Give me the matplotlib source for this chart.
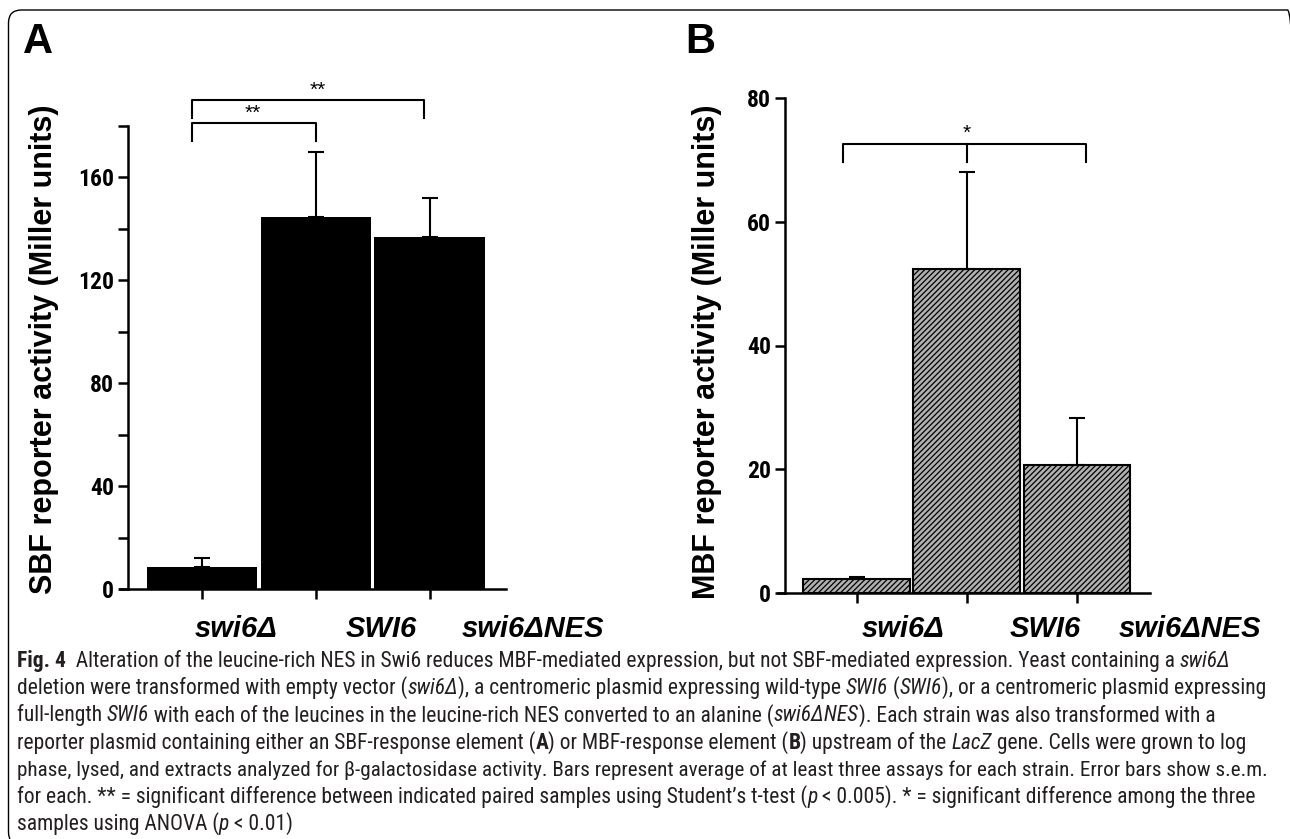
import matplotlib
matplotlib.use("Agg")
import matplotlib.pyplot as plt
from matplotlib import font_manager
from matplotlib.patches import FancyBboxPatch
from matplotlib.transforms import IdentityTransform, ScaledTranslation

# values
strains = ["swi6Δ", "SWI6", "swi6ΔNES"]
sbf_mean = [8.6, 144.8, 137.0]
sbf_sem = [3.5, 24.9, 15.2]
mbf_mean = [2.3, 52.4, 20.7]
mbf_sem = [0.3, 15.6, 7.6]

sbf_ticks = [0, 20, 40, 60, 80, 100, 120, 140, 160, 180]
sbf_ticklabels = ["0", "", "40", "", "80", "", "120", "", "160", ""]
mbf_ticks = [0, 20, 40, 60, 80]
mbf_ticklabels = ["0", "20", "40", "60", "80"]

caption_lines = [
    [("Fig. 4", "b"), ("  Alteration of the leucine-rich NES in Swi6 reduces MBF-mediated expression, "
                       "but not SBF-mediated expression. Yeast containing a ", "n"), ("swi6Δ", "i")],
    [("deletion were transformed with empty vector (", "n"), ("swi6Δ", "i"),
     ("), a centromeric plasmid expressing wild-type ", "n"), ("SWI6", "i"), (" (", "n"),
     ("SWI6", "i"), ("), or a centromeric plasmid expressing", "n")],
    [("full-length ", "n"), ("SWI6", "i"),
     (" with each of the leucines in the leucine-rich NES converted to an alanine (", "n"),
     ("swi6ΔNES", "i"), ("). Each strain was also transformed with a", "n")],
    [("reporter plasmid containing either an SBF-response element (", "n"), ("A", "b"),
     (") or MBF-response element (", "n"), ("B", "b"), (") upstream of the ", "n"),
     ("LacZ", "i"), (" gene. Cells were grown to log", "n")],
    [("phase, lysed, and extracts analyzed for β-galactosidase activity. Bars represent average "
      "of at least three assays for each strain. Error bars show s.e.m.", "n")],
    [("for each. ** = significant difference between indicated paired samples using Student’s t-test (", "n"),
     ("p", "i"), (" < 0.005). * = significant difference among the three", "n")],
    [("samples using ANOVA (", "n"), ("p", "i"), (" < 0.01)", "n")],
]

# pick a narrow face if one is installed
fonts = font_manager.fontManager.ttflist
names = {f.name for f in fonts}
narrow = "Liberation Sans"
narrow_stretch = "normal"
for cand in ["Liberation Sans Narrow", "Roboto Condensed", "Open Sans Condensed", "Noto Sans Condensed"]:
    if cand in names:
        narrow = cand
        break
else:
    if any(f.name == "DejaVu Sans" and f.stretch == "condensed" for f in fonts):
        narrow = "DejaVu Sans"
        narrow_stretch = "condensed"
arial = "Liberation Sans"

W, H = 1290, 839
fig = plt.figure(figsize=(W / 100, H / 100), dpi=100)
plt.rcParams["hatch.linewidth"] = 0.9


def px_axes(x0, y_top, x1, y_bot):
    return fig.add_axes([x0 / W, 1 - y_bot / H, (x1 - x0) / W, (y_bot - y_top) / H])


def style_axes(ax, xleft, spine_x, xright, ymax, ticks, labels, xpad, label_shift):
    ax.set_xlim(xleft, xright)
    ax.set_ylim(0, ymax)
    for s in ["top", "right"]:
        ax.spines[s].set_visible(False)
    ax.spines["left"].set_position(("data", spine_x))
    for s in ["left", "bottom"]:
        ax.spines[s].set_linewidth(1.8)
    ax.set_xticks(range(len(strains)))
    ax.set_xticklabels(strains, fontsize=21, fontweight="bold", style="italic", family=arial)
    ax.set_yticks(ticks)
    ax.set_yticklabels(labels, fontsize=17, fontweight="bold", family=[narrow, "DejaVu Sans"],
                       fontstretch=narrow_stretch)
    ax.tick_params(axis="x", length=7, width=1.8, pad=xpad)
    ax.tick_params(axis="y", length=7, width=1.8, pad=3)
    ax.patch.set_visible(False)
    # strain names sit to the right of their ticks in the original
    for lbl, dx in zip(ax.get_xticklabels(), label_shift):
        lbl.set_transform(lbl.get_transform() + ScaledTranslation(dx / 100, 0, fig.dpi_scale_trans))


x = list(range(len(strains)))

# panel A
axA = px_axes(120, 126, 506, 589)
axA.bar(x, sbf_mean, width=0.97, color="black", linewidth=0)
axA.errorbar(x, sbf_mean, yerr=[[0] * 3, sbf_sem], fmt="none", ecolor="black",
             elinewidth=1.5, capsize=6, capthick=1.5)
style_axes(axA, -0.72, -0.65, 2.67, 180, sbf_ticks, sbf_ticklabels, 12, [34, 65, 103])
axA.plot([-0.09, -0.09, 1.0, 1.0], [174, 181, 181, 174], color="black", lw=1.5, clip_on=False)
axA.plot([-0.09, -0.09, 1.95, 1.95], [183.3, 190, 190, 183.3], color="black", lw=1.5, clip_on=False)
axA.text(0.45, 181.3, "**", ha="center", va="bottom", fontsize=15, family=arial, clip_on=False)
axA.text(1.02, 190.3, "**", ha="center", va="bottom", fontsize=15, family=arial, clip_on=False)

# panel B
axB = px_axes(778, 98, 1150, 593)
axB.bar(x, mbf_mean, width=0.97, facecolor="#b0b0b0", edgecolor="black", linewidth=1.5,
        hatch="//////")
axB.errorbar(x, mbf_mean, yerr=[[0] * 3, mbf_sem], fmt="none", ecolor="black",
             elinewidth=1.5, capsize=6, capthick=1.5)
style_axes(axB, -0.712, -0.649, 2.662, 80, mbf_ticks, mbf_ticklabels, 9, [47, 79, 113])
axB.plot([-0.12, -0.12, 2.08, 2.08], [69.7, 72.5, 72.5, 69.7], color="black", lw=1.5, clip_on=False)
axB.plot([1.0, 1.0], [72.5, 69.7], color="black", lw=1.5, clip_on=False)
axB.text(1.0, 72.8, "*", ha="center", va="bottom", fontsize=15, family=arial, clip_on=False)

# y labels and panel letters
fig.text(44 / W, 1 - 349 / H, "SBF reporter activity (Miller units)", rotation=90,
         ha="center", va="center", fontsize=22, fontweight="bold", family=arial)
fig.text(707 / W, 1 - 352 / H, "MBF reporter activity (Miller units)", rotation=90,
         ha="center", va="center", fontsize=22, fontweight="bold", family=arial)
fig.text(38 / W, 1 - 42 / H, "A", ha="center", va="center", fontsize=30,
         fontweight="bold", family=arial)
fig.text(700 / W, 1 - 42 / H, "B", ha="center", va="center", fontsize=30,
         fontweight="bold", family=arial)

# rounded frame, right side just off the canvas
frame = FancyBboxPatch((8.5, -6), 1292, H - 10 + 6, boxstyle="round,pad=0,rounding_size=13",
                       transform=IdentityTransform(), fill=False, lw=1.0, ec="black")
fig.patches.append(frame)

# caption, drawn run by run so italic / bold words sit inline
renderer = fig.canvas.get_renderer()
cap_family = [narrow, "DejaVu Sans"]
cap_x0 = 17
cap_right = 1279


def run_kw(style, size):
    return dict(fontsize=size, family=cap_family, color="#231f20", fontstretch=narrow_stretch,
                style="italic" if style == "i" else "normal",
                weight="bold" if style == "b" else "normal")


def run_width(s, style, size):
    t1 = fig.text(0, 0, "|" + s + "|", **run_kw(style, size))
    t2 = fig.text(0, 0, "||", **run_kw(style, size))
    w = t1.get_window_extent(renderer).width - t2.get_window_extent(renderer).width
    t1.remove()
    t2.remove()
    return w


base = 14
widths = [sum(run_width(s, st, base) for s, st in line) for line in caption_lines]
# line 2 is the longest one in the original; size the caption on it
cap_size = base * (cap_right - 4 - cap_x0) / widths[1]

y0, dy = 667, 27.2
for i, line in enumerate(caption_lines):
    size = min(cap_size, base * (cap_right - cap_x0) / widths[i])
    xp = cap_x0
    for s, st in line:
        fig.text(xp / W, 1 - (y0 + i * dy) / H, s, va="baseline", ha="left", **run_kw(st, size))
        xp += run_width(s, st, size)

fig.savefig("out.png", dpi=100)
